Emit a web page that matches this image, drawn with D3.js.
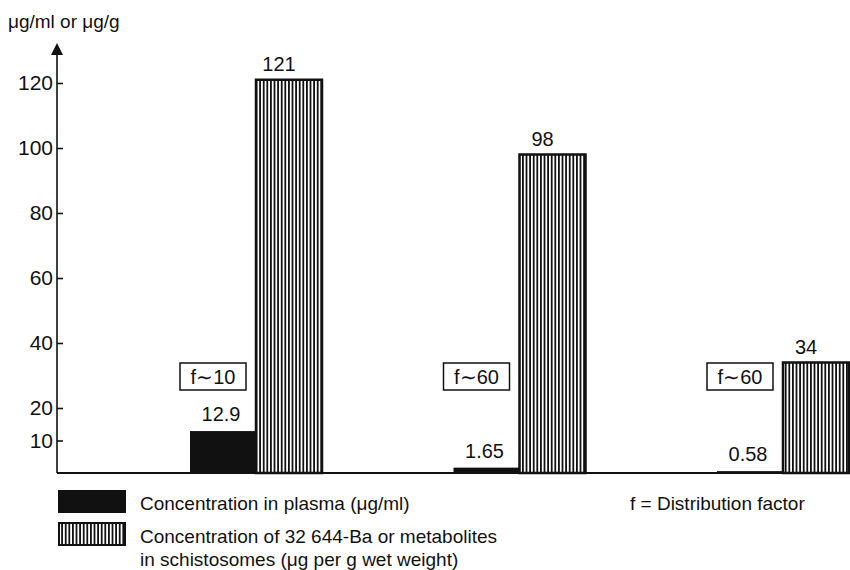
<!DOCTYPE html>
<html><head><meta charset="utf-8">
<script src="https://cdn.jsdelivr.net/npm/d3@7"></script>
<style>body{margin:0;background:#fff}text{font-family:"Liberation Sans",Arial,sans-serif;fill:#111}</style>
</head><body>
<svg id="c" width="850" height="570"></svg>
<script>
const groups = ['A', 'B', 'C'];
const plasma = [12.9, 1.65, 0.58];
const schisto = [121, 98, 34];
const factors = ['f\u223C10', 'f\u223C60', 'f\u223C60'];
const yTicks = [10, 20, 40, 60, 80, 100, 120];

const svg = d3.select('#c');
const defs = svg.append('defs');
const pat = defs.append('pattern').attr('id', 'hatch').attr('patternUnits', 'userSpaceOnUse')
  .attr('width', 3.6).attr('height', 10);
pat.append('rect').attr('width', 3.6).attr('height', 10).attr('fill', '#fff');
pat.append('rect').attr('x', 0).attr('width', 1.8).attr('height', 10).attr('fill', '#111');

const y = d3.scaleLinear().domain([0, 120]).range([473, 83]);
const x = d3.scaleBand().domain(groups).range([57, 847.5]);
// each group: plasma bar then schisto bar at right side of group
const barW = 66;
const gx = d => x(d) + 133;

// axis
svg.append('line').attr('x1', 57).attr('x2', 850).attr('y1', y(0)).attr('y2', y(0)).attr('stroke', '#111').attr('stroke-width', 2);
svg.append('line').attr('x1', 57).attr('x2', 57).attr('y1', y(0)).attr('y2', 52).attr('stroke', '#111').attr('stroke-width', 1.6);
svg.append('path').attr('d', 'M51,55 L57,43 L63,55 Z').attr('fill', '#111');
const yAxis = svg.append('g').attr('transform', 'translate(57,0)')
  .call(d3.axisRight(y).tickValues(yTicks).tickSize(6).tickFormat(''));
yAxis.select('.domain').remove();
yAxis.selectAll('line').attr('stroke', '#111').attr('stroke-width', 1.6);
svg.selectAll('.yl').data(yTicks).enter().append('text')
  .attr('x', 53).attr('y', d => y(d) + 7).attr('text-anchor', 'end').attr('font-size', 21).text(d => d);
svg.append('text').attr('x', 8).attr('y', 28).attr('font-size', 19).text('\u03BCg/ml or \u03BCg/g');

// bars
svg.selectAll('.p').data(groups).enter().append('rect')
  .attr('x', d => gx(d)).attr('width', barW)
  .attr('y', (d, i) => y(plasma[i])).attr('height', (d, i) => y(0) - y(plasma[i]))
  .attr('fill', '#111');
svg.selectAll('.s').data(groups).enter().append('rect')
  .attr('x', d => gx(d) + barW).attr('width', barW)
  .attr('y', (d, i) => y(schisto[i])).attr('height', (d, i) => y(0) - y(schisto[i]))
  .attr('fill', 'url(#hatch)').attr('stroke', '#111').attr('stroke-width', 2.5);

// value labels
svg.selectAll('.pl').data(groups).enter().append('text')
  .attr('x', d => gx(d) + barW / 2 - 2).attr('y', (d, i) => y(plasma[i]) - 10)
  .attr('text-anchor', 'middle').attr('font-size', 20).text((d, i) => plasma[i]);
svg.selectAll('.sl').data(groups).enter().append('text')
  .attr('x', d => gx(d) + barW * 1.5 - 10).attr('y', (d, i) => y(schisto[i]) - 9)
  .attr('text-anchor', 'middle').attr('font-size', 20).text((d, i) => schisto[i]);

// factor boxes
const fb = svg.selectAll('.f').data(groups).enter().append('g')
  .attr('transform', d => `translate(${gx(d) - 10},363)`);
fb.append('rect').attr('width', 66).attr('height', 27).attr('fill', '#fff').attr('stroke', '#111').attr('stroke-width', 1.5);
fb.append('text').attr('x', 33).attr('y', 21).attr('text-anchor', 'middle').attr('font-size', 20).text((d, i) => factors[i]);

// legend
svg.append('rect').attr('x', 58).attr('y', 490).attr('width', 68).attr('height', 23).attr('fill', '#111');
svg.append('rect').attr('x', 59).attr('y', 523).attr('width', 66).attr('height', 22).attr('fill', 'url(#hatch)').attr('stroke', '#111').attr('stroke-width', 2);
svg.append('text').attr('x', 140).attr('y', 510).attr('font-size', 19).text('Concentration in plasma (\u03BCg/ml)');
svg.append('text').attr('x', 140).attr('y', 543).attr('font-size', 19).text('Concentration of 32 644-Ba or metabolites');
svg.append('text').attr('x', 140).attr('y', 566).attr('font-size', 19).text('in schistosomes (\u03BCg per g wet weight)');
svg.append('text').attr('x', 630).attr('y', 510).attr('font-size', 19).text('f = Distribution factor');
</script>
</body></html>
